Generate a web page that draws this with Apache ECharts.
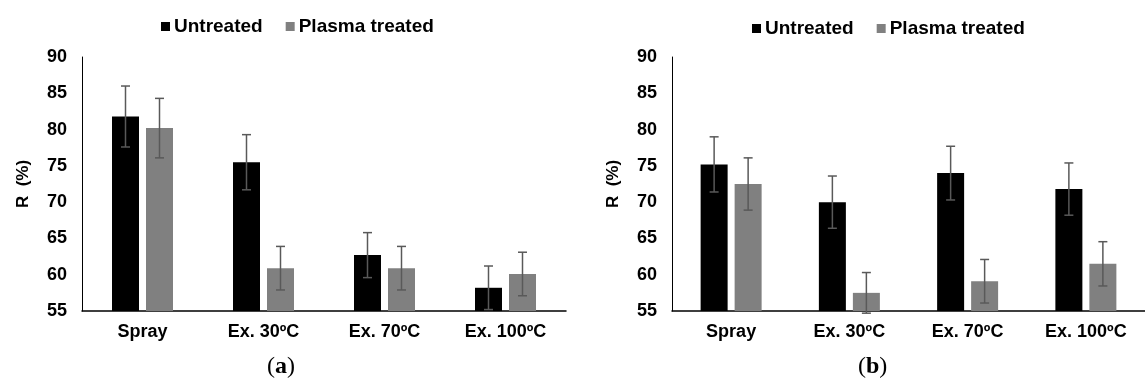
<!DOCTYPE html>
<html>
<head>
<meta charset="utf-8">
<script src="https://cdn.jsdelivr.net/npm/echarts@6/dist/echarts.min.js"></script>
<style>
  html, body { margin: 0; padding: 0; background: #fff; }
  #chart { width: 1145px; height: 383px; }
</style>
</head>
<body>
<div id="chart"></div>
<script>
const categories = ['Spray', 'Ex. 30ºC', 'Ex. 70ºC', 'Ex. 100ºC']
const yTicks = [55, 90, 5] // min, max, step

// panel (a)
const untreatedA = [81.8, 75.5, 62.7, 58.2]
const untreatedErrA = [4.2, 3.8, 3.1, 3.0]
const plasmaA = [80.2, 60.9, 60.9, 60.1]
const plasmaErrA = [4.1, 3.0, 3.0, 3.0]

// panel (b)
const untreatedB = [75.2, 70.0, 74.0, 71.8]
const untreatedErrB = [3.8, 3.6, 3.7, 3.6]
const plasmaB = [72.5, 57.5, 59.1, 61.5]
const plasmaErrB = [3.6, 2.8, 3.0, 3.05]

const font = 'Liberation Sans, Arial, sans-serif'
const barWidth = 27
const barGapPx = 7
const errColor = '#595959'

function errorSeries (values, errs, side, idx) {
  return {
    type: 'custom',
    xAxisIndex: idx,
    yAxisIndex: idx,
    silent: true,
    z: 5,
    encode: { x: 0, y: 1 },
    data: values.map((v, i) => [i, v, errs[i]]),
    renderItem (params, api) {
      const i = api.value(0)
      const v = api.value(1)
      const e = api.value(2)
      const hi = api.coord([i, v + e])
      const lo = api.coord([i, v - e])
      const x = hi[0] + side * (barWidth + barGapPx) / 2
      const style = { stroke: errColor, lineWidth: 1.5 }
      return {
        type: 'group',
        children: [
          { type: 'line', shape: { x1: x, y1: hi[1], x2: x, y2: lo[1] }, style },
          { type: 'line', shape: { x1: x - 4.5, y1: hi[1], x2: x + 4.5, y2: hi[1] }, style },
          { type: 'line', shape: { x1: x - 4.5, y1: lo[1], x2: x + 4.5, y2: lo[1] }, style }
        ]
      }
    }
  }
}

function barSeries (name, values, color, idx) {
  return {
    name,
    type: 'bar',
    xAxisIndex: idx,
    yAxisIndex: idx,
    barWidth,
    barGap: (barGapPx / barWidth * 100) + '%',
    itemStyle: { color },
    data: values
  }
}

function xAxis (idx) {
  return {
    type: 'category',
    gridIndex: idx,
    data: categories,
    axisTick: { show: false },
    axisLine: { lineStyle: { color: '#000', width: 1.5 } },
    axisLabel: { color: '#000', fontFamily: font, fontWeight: 'bold', fontSize: 18, margin: 12 }
  }
}

function yAxis (idx) {
  return {
    type: 'value',
    gridIndex: idx,
    min: yTicks[0],
    max: yTicks[1],
    interval: yTicks[2],
    name: 'R  (%)',
    nameLocation: 'middle',
    nameRotate: 90,
    nameGap: 50,
    nameTextStyle: { color: '#000', fontFamily: font, fontWeight: 'bold', fontSize: 17 },
    splitLine: { show: false },
    axisTick: { show: false },
    axisLine: { show: true, lineStyle: { color: '#000', width: 1 } },
    axisLabel: { color: '#000', fontFamily: font, fontWeight: 'bold', fontSize: 18, margin: 15 }
  }
}

function legend (left, top) {
  return {
    left,
    top,
    icon: 'rect',
    itemWidth: 9,
    itemHeight: 9,
    itemGap: 23,
    selectedMode: false,
    data: ['Untreated', 'Plasma treated'],
    textStyle: { color: '#000', fontFamily: font, fontWeight: 'bold', fontSize: 19, padding: [0, 0, 0, -1] }
  }
}

function caption (letter, cx) {
  return {
    type: 'text',
    left: cx - 15,
    top: 355,
    style: {
      text: '{p|(}{l|' + letter + '}{p|)}',
      rich: {
        p: { fontFamily: 'Liberation Serif, serif', fontSize: 24, fill: '#000' },
        l: { fontFamily: 'Liberation Serif, serif', fontSize: 24, fontWeight: 'bold', fill: '#000' }
      }
    }
  }
}

const chart = echarts.init(document.getElementById('chart'))
chart.setOption({
  animation: false,
  legend: [legend(156, 12), legend(747, 14)],
  grid: [
    { left: 82, right: 579, top: 57, bottom: 72 },
    { left: 672, right: -12, top: 57, bottom: 72 }
  ],
  xAxis: [xAxis(0), xAxis(1)],
  yAxis: [yAxis(0), yAxis(1)],
  series: [
    barSeries('Untreated', untreatedA, '#000000', 0),
    barSeries('Plasma treated', plasmaA, '#808080', 0),
    barSeries('Untreated', untreatedB, '#000000', 1),
    barSeries('Plasma treated', plasmaB, '#808080', 1),
    errorSeries(untreatedA, untreatedErrA, -1, 0),
    errorSeries(plasmaA, plasmaErrA, 1, 0),
    errorSeries(untreatedB, untreatedErrB, -1, 1),
    errorSeries(plasmaB, plasmaErrB, 1, 1)
  ],
  graphic: [caption('a', 282), caption('b', 873)]
})
</script>
</body>
</html>
